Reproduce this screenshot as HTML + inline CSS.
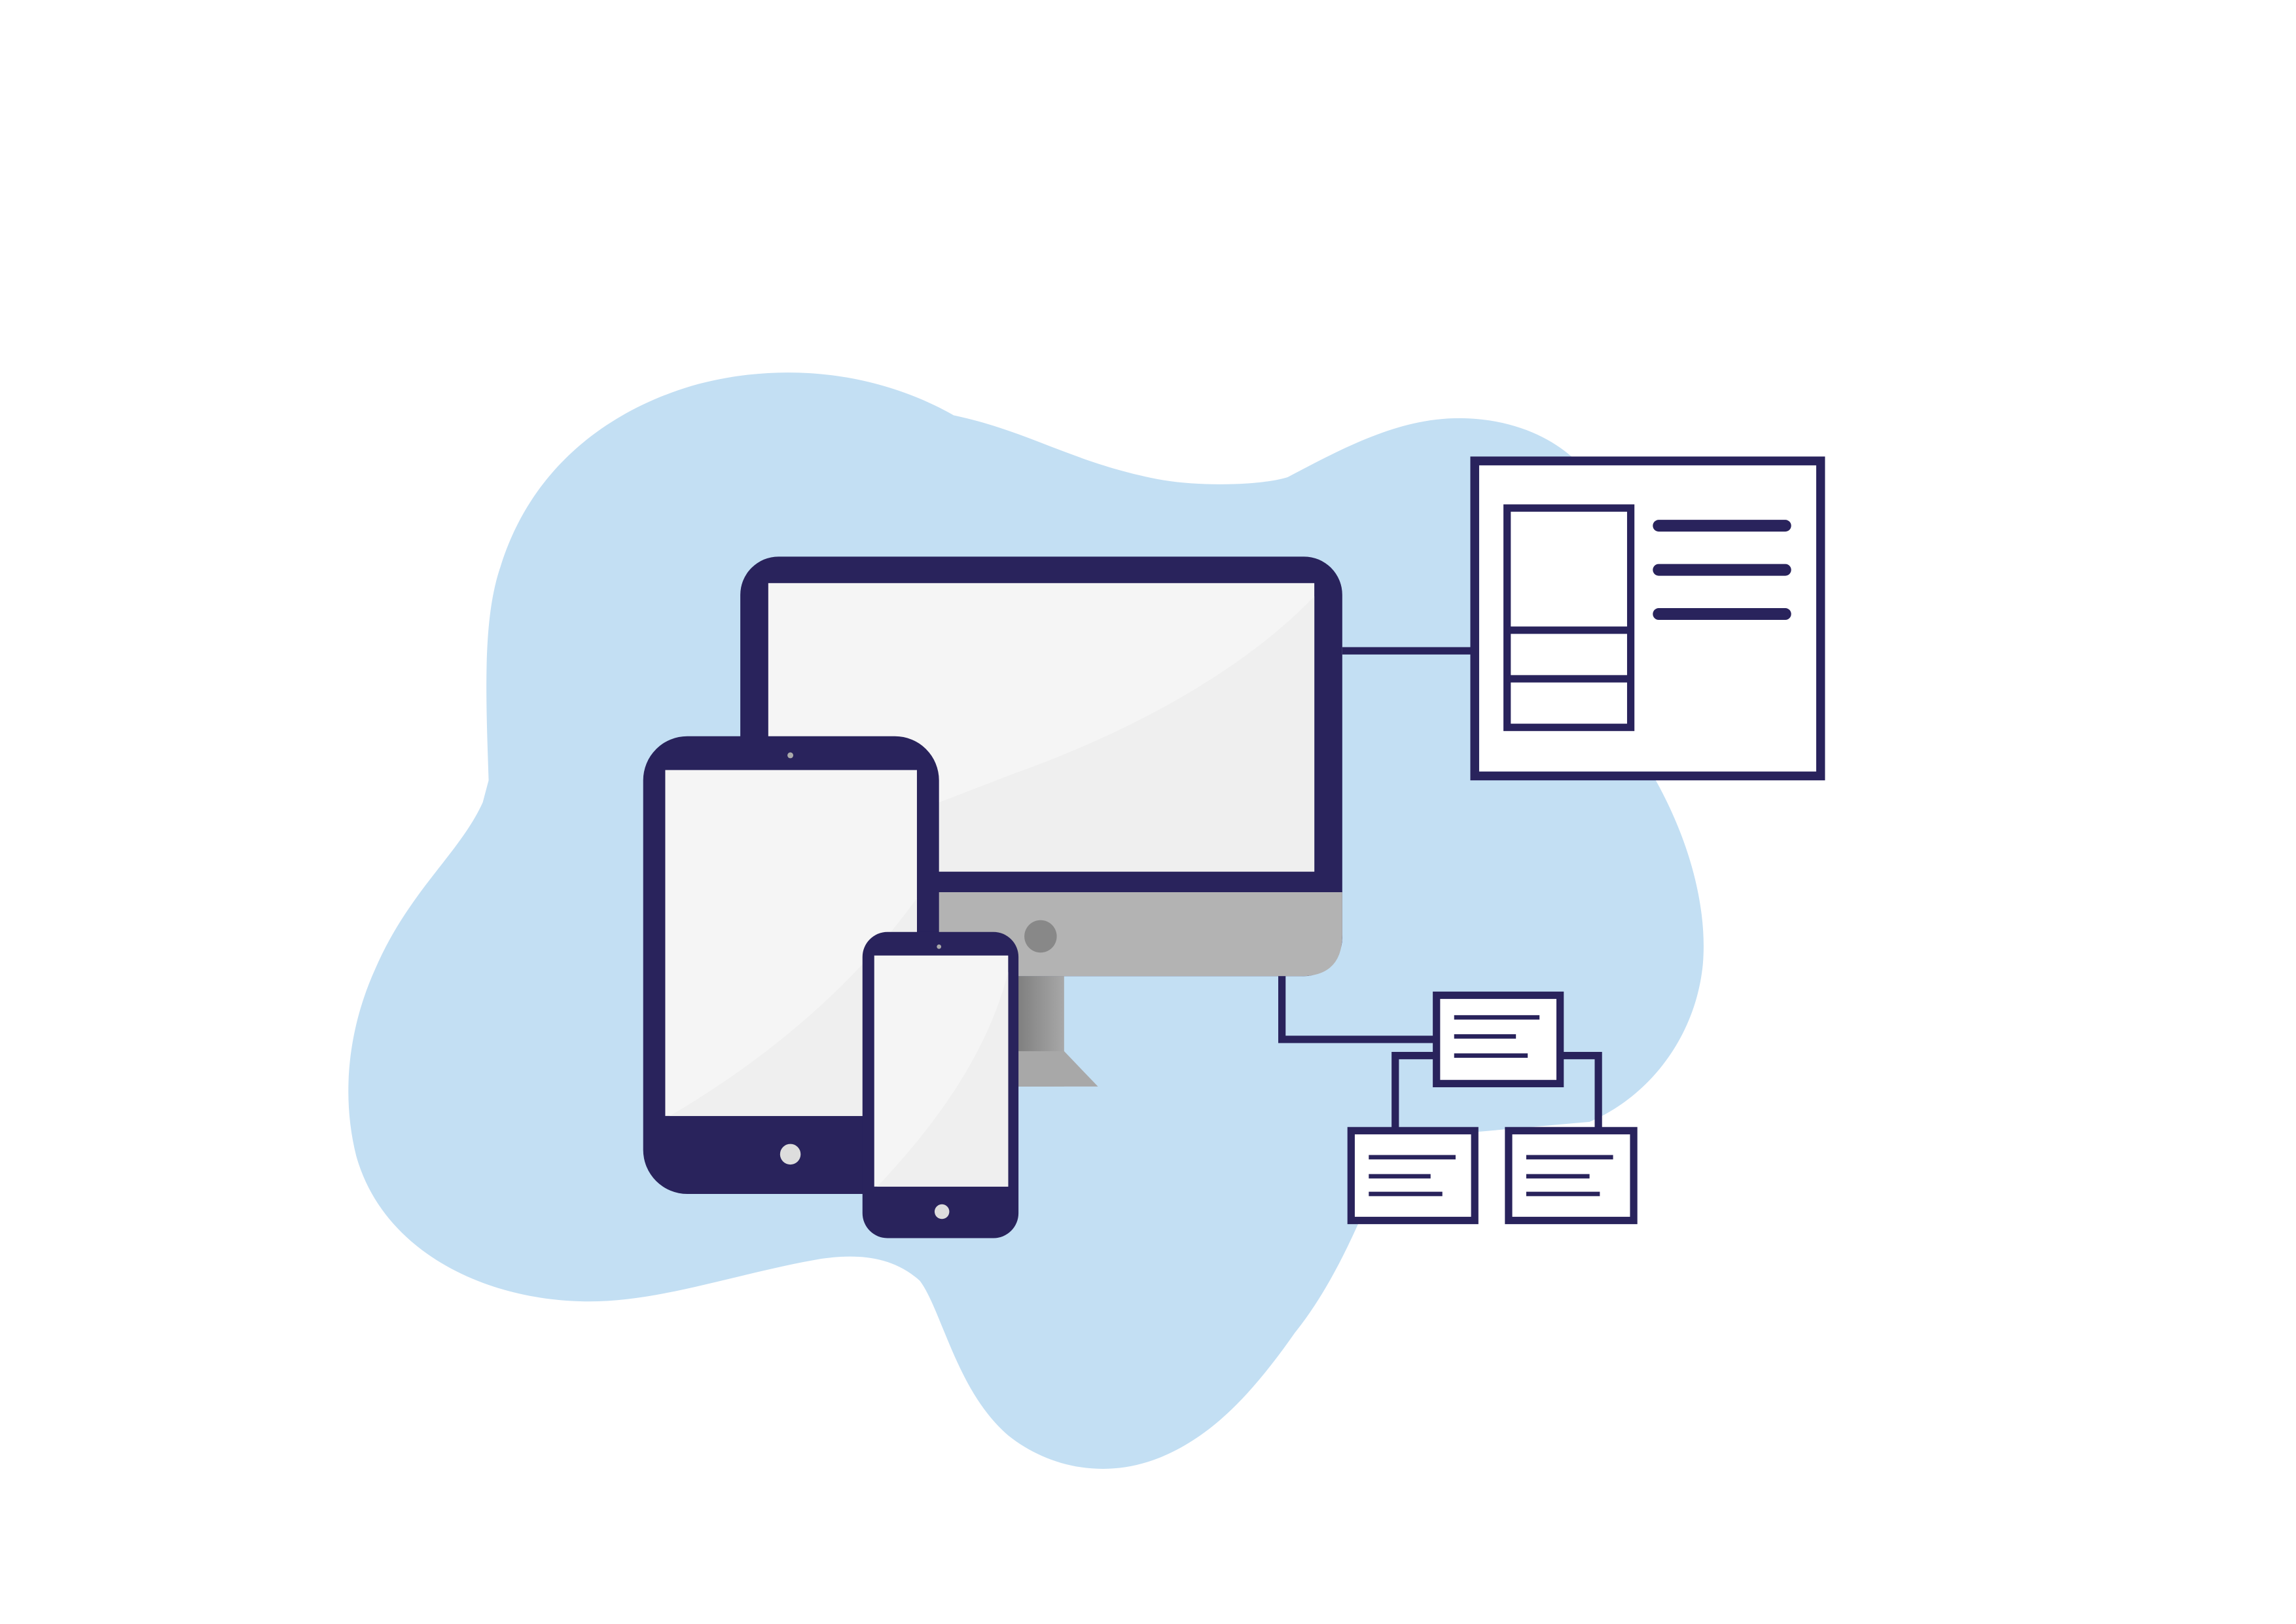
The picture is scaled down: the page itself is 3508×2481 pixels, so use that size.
<!DOCTYPE html>
<html><head><meta charset="utf-8"><style>
html,body{margin:0;padding:0;background:#fff;}
svg{display:block;width:3508px;height:2481px;}
</style></head><body>
<svg viewBox="0 0 1560 1103" xmlns="http://www.w3.org/2000/svg">
<defs>
<linearGradient id="st" x1="0" x2="1" y1="0" y2="0">
<stop offset="0" stop-color="#7d7d7d"/><stop offset="1" stop-color="#a8a8a8"/></linearGradient>
</defs>
<path fill="#c3dff3" d="M332,530 C330,470 328,420 340,385 C360,320 410,280 470,262 C530,245 595,252 648,282 C700,293 730,315 790,326 C820,331 860,329 875,324 C920,300 955,283 995,284 C1030,285 1055,298 1070,312 L1125,530 C1150,575 1160,620 1157,655 C1152,705 1120,745 1080,762 L990,770 C960,790 940,800 930,815 C915,850 900,880 880,905 C850,948 820,980 780,993 C745,1004 710,995 685,975 C650,945 640,890 625,870 C605,852 580,852 558,855 C500,865 450,884 400,884 C330,884 260,850 242,785 C232,745 236,700 255,658 C278,605 312,580 328,545 Z"/>
<!-- monitor -->
<rect x="503" y="378" width="409" height="285" rx="26" fill="#29235c"/>
<path d="M503,606 H912 V635 Q912,663 884,663 H531 Q503,663 503,635 Z" fill="#b3b3b3"/>
<rect x="522" y="396" width="371" height="196" fill="#f5f5f5"/>
<path d="M893,405 C840,460 760,500 690,525 C630,548 560,575 522,592 H893 Z" fill="#efefef"/>
<circle cx="707" cy="636" r="11" fill="#888"/>
<rect x="690" y="663" width="33" height="75" fill="url(#st)"/>
<path d="M723,714 L746,738 H690 V714 Z" fill="#a8a8a8"/>
<!-- tablet -->
<rect x="437" y="500" width="201" height="311" rx="30" fill="#29235c"/>
<rect x="452" y="523" width="171" height="235" fill="#f5f5f5"/>
<path d="M623,610 C580,670 520,720 455,758 H623 Z" fill="#efefef"/>
<circle cx="537" cy="784" r="7" fill="#ddd"/>
<circle cx="537" cy="513" r="2" fill="#aaa"/>
<!-- phone -->
<rect x="586" y="633" width="106" height="208" rx="17" fill="#29235c"/>
<rect x="594" y="649" width="91" height="157" fill="#f5f5f5"/>
<path d="M685,660 C670,720 630,770 596,806 H685 Z" fill="#efefef"/>
<circle cx="640" cy="823" r="5" fill="#ddd"/>
<circle cx="638" cy="643" r="1.5" fill="#aaa"/>
<!-- connectors -->
<g stroke="#29235c" fill="none" stroke-width="5">
<line x1="912" y1="442" x2="1001" y2="442"/>
<polyline points="871,663 871,706 975,706"/>
<polyline points="948,767 948,717 975,717"/>
<polyline points="1060,717 1086,717 1086,767"/>
</g>
<!-- panel -->
<rect x="1002" y="313" width="235" height="214" fill="#fff" stroke="#29235c" stroke-width="6"/>
<rect x="1024" y="345" width="84" height="149" fill="#fff" stroke="#29235c" stroke-width="5"/>
<line x1="1024" y1="428" x2="1108" y2="428" stroke="#29235c" stroke-width="5"/>
<line x1="1024" y1="461" x2="1108" y2="461" stroke="#29235c" stroke-width="5"/>
<g stroke="#29235c" stroke-width="8" stroke-linecap="round">
<line x1="1127" y1="357" x2="1213" y2="357"/>
<line x1="1127" y1="387" x2="1213" y2="387"/>
<line x1="1127" y1="417" x2="1213" y2="417"/>
</g>
<!-- tree boxes -->
<g fill="#fff" stroke="#29235c" stroke-width="5">
<rect x="976" y="676" width="84" height="60"/>
<rect x="918" y="768" width="84" height="61"/>
<rect x="1025" y="768" width="85" height="61"/>
</g>
<g stroke="#29235c" stroke-width="3">
<line x1="988" y1="691" x2="1046" y2="691"/><line x1="988" y1="704" x2="1030" y2="704"/><line x1="988" y1="717" x2="1038" y2="717"/>
<line x1="930" y1="786" x2="989" y2="786"/><line x1="930" y1="799" x2="972" y2="799"/><line x1="930" y1="811" x2="980" y2="811"/>
<line x1="1037" y1="786" x2="1096" y2="786"/><line x1="1037" y1="799" x2="1080" y2="799"/><line x1="1037" y1="811" x2="1087" y2="811"/>
</g>
</svg>
</body></html>
